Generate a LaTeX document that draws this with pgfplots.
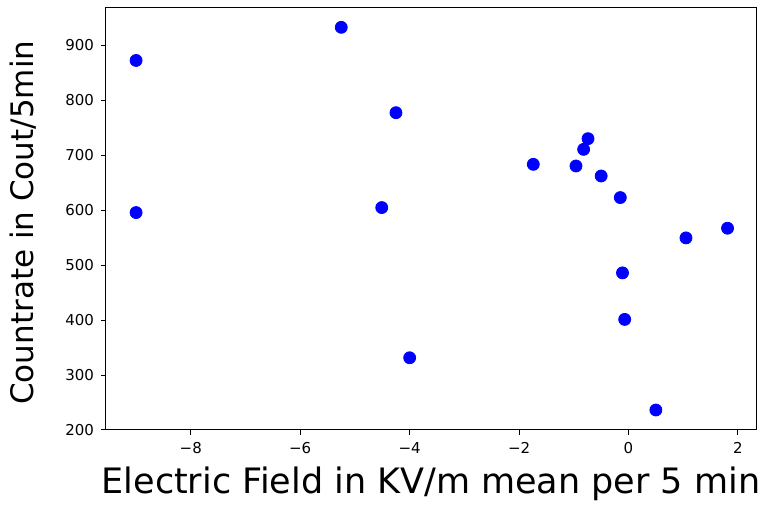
\documentclass[border=0pt]{standalone}
\usepackage{fontspec}
\setmainfont{DejaVu Sans}
\usepackage{pgfplots}
\pgfplotsset{compat=1.18}
\usetikzlibrary{calc}
\begin{document}
\begin{tikzpicture}
\begin{axis}[
    name=ax,
    scale only axis,
    width=325pt, height=211.5pt,
    xmin=-9.55, xmax=2.33,
    ymin=200, ymax=970,
    xtick={-8,-6,-4,-2,0,2},
    xticklabels={−8,−6,−4,−2,0,2},
    ytick={200,300,...,900},
    tick align=outside,
    tick pos=left,
    major tick length=2.5pt,
    tick style={black, line width=0.5pt},
    axis line style={line width=0.5pt},
    ticklabel style={font=\fontsize{7.5}{9}\selectfont},
    /pgf/number format/assume math mode=true,
    xlabel={Electric Field in KV/m mean per 5 min},
    ylabel={Countrate in Cout/5min},
    xlabel style={font=\fontsize{17.5}{20}\selectfont, anchor=center, at={(axis description cs:0.5,-0.127)}},
    ylabel style={font=\fontsize{15.5}{18}\selectfont, anchor=center, at={(axis description cs:-0.128,0.49)}},
]
\addplot[only marks, mark=*, mark size=3pt, color=blue, mark options={draw=blue, fill=blue}] coordinates {
    (-9.0,872.7) (-9.0,595.8) (-5.25,933) (-4.25,777.6) (-4.51,604.9) (-4.0,331.5)
    (-1.74,683.6) (-0.96,680.6) (-0.74,730.3) (-0.82,710.9) (-0.5,662.4) (-0.15,623.1)
    (1.05,549.7) (1.81,567.3) (-0.11,486) (-0.07,401.3) (0.50,236.4)
};
\end{axis}
\pgfresetboundingbox
\path ($(ax.south west)+(-53pt,-37.5pt)$) rectangle ($(ax.north east)+(7pt,3.5pt)$);
\end{tikzpicture}
\end{document}
